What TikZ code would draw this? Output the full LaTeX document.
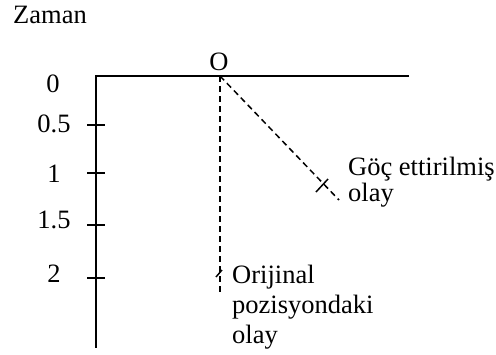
\documentclass[tikz,border=0pt]{standalone}
\usepackage{fontspec}
\setmainfont{Liberation Serif}
\usetikzlibrary{positioning,calc}

\begin{document}
\begin{tikzpicture}[
		x=1pt, y=-1pt,
		% Style definitions
		axis/.style={
			line width=2pt,
			black
		},
		guide/.style={
			dash pattern=on 6pt off 4pt,
			line width=1.5pt,
			black
		},
		marker/.style={
			line width=1.5pt,
			black
		},
		lbl/.style={
			font=\fontsize{26.5}{30}\selectfont,
			inner sep=0pt,
			anchor=base
		},
		note/.style={
			font=\fontsize{26.5}{30}\selectfont,
			inner sep=0pt,
			anchor=base west,
			align=left
		}
		]
		\useasboundingbox (0,0) rectangle (496,354);
		
		% Axes
		\coordinate (corner) at (96,76);
		\coordinate (origin) at (220,76);
		\coordinate (xend) at (409,76);
		\coordinate (yend) at (96,348);
		\draw[axis] (xend) -- (corner) -- (yend);
		\node[lbl] (zaman) at (50,23) {Zaman};
		\node[lbl] (olabel) at (219,70) {O};
		\node[lbl] (t0) at (53,92) {0};
		
		% Time ticks
		\foreach \i/\ty/\by/\lab in {1/125/132/0.5, 2/173/182/1, 3/225/228/1.5, 4/278/282/2}{
			\coordinate (tk\i) at (96,\ty);
			\draw[axis] ($(tk\i)+(-9,0)$) -- ($(tk\i)+(9,0)$);
			\node[lbl] (t\i) at (54,\by) {\lab};
		}
		
		% Event paths
		\coordinate (orig) at (220,292);
		\coordinate (moved) at (339,200);
		\draw[guide] (origin) -- (orig);
		\draw[guide] (origin) -- (moved);
		
		% Event markers
		\draw[marker] (316,192) -- (328,179);
		\draw[marker] (216,277) -- (222,270);
		
		% Labels (base = last line)
		\node[note] (gocnote) at (348,201) {Göç ettirilmiş\\[-4pt]olay};
		\node[note] (orjnote) at (232,343) {Orijinal\\pozisyondaki\\olay};
		
	\end{tikzpicture}
\end{document}
